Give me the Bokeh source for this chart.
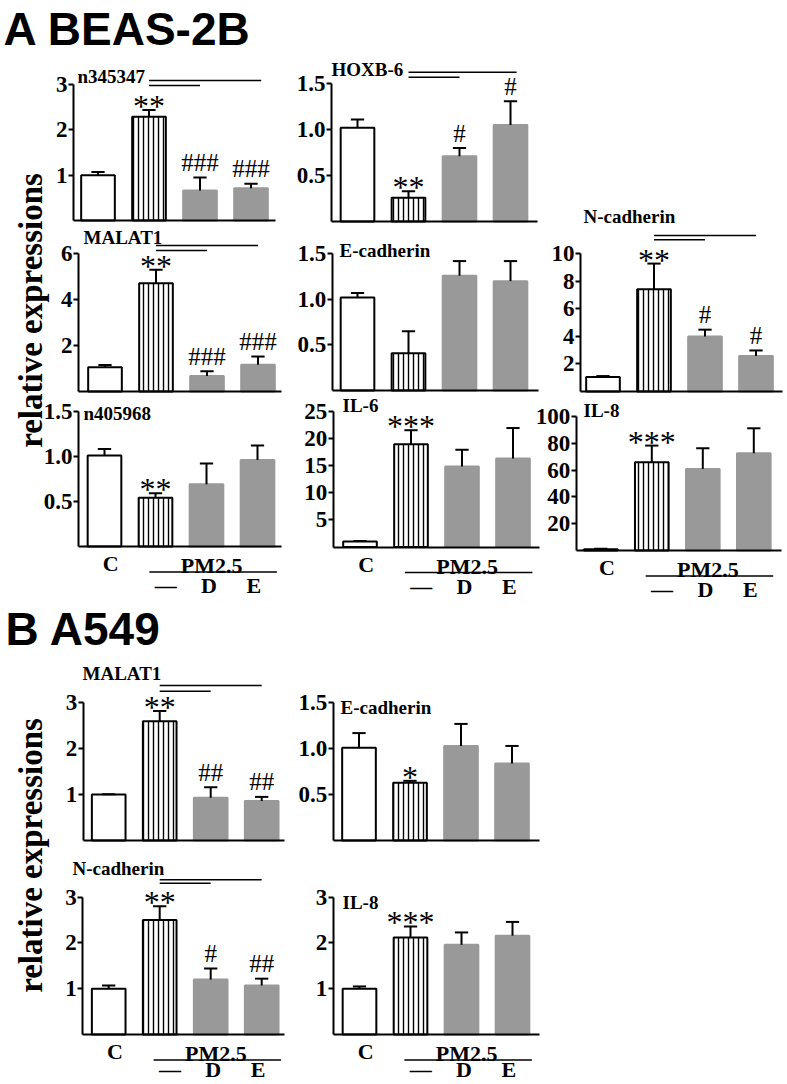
import math
from bokeh.plotting import figure
from bokeh.models import Range1d, LinearAxis, FixedTicker, ColumnDataSource
from bokeh.core.properties import value
from bokeh.embed import file_html
from bokeh.resources import INLINE

# ---------------- data ----------------
groups = ["C", "PM2.5", "PM2.5+D", "PM2.5+E"]
x_pos = [1, 2, 3, 4]
ctrl_label = "C"
pm_label = "PM2.5"
sub_labels = ["\u2014", "D", "E"]
ylabel = "relative expressions"
title_a = "A BEAS-2B"
title_b = "B A549"

# A: BEAS-2B
n345347_mean = [1.00, 2.29, 0.66, 0.71]
n345347_sem = [0.07, 0.15, 0.29, 0.10]
n345347_sig = ["", "**", "###", "###"]

hoxb6_mean = [1.02, 0.26, 0.71, 1.05]
hoxb6_sem = [0.09, 0.07, 0.09, 0.26]
hoxb6_sig = ["", "**", "#", "#"]

malat1_a_mean = [1.05, 4.71, 0.67, 1.16]
malat1_a_sem = [0.10, 0.58, 0.21, 0.36]
malat1_a_sig = ["", "**", "###", "###"]

ecad_a_mean = [1.02, 0.41, 1.26, 1.20]
ecad_a_sem = [0.05, 0.24, 0.16, 0.22]
ecad_a_sig = ["", "", "", ""]

ncad_a_mean = [1.05, 7.42, 4.00, 2.57]
ncad_a_sem = [0.07, 1.87, 0.49, 0.41]
ncad_a_sig = ["", "**", "#", "#"]

n405968_mean = [1.01, 0.54, 0.69, 0.96]
n405968_sem = [0.07, 0.05, 0.23, 0.16]
n405968_sig = ["", "**", "", ""]

il6_a_mean = [1.00, 18.9, 14.8, 16.3]
il6_a_sem = [0.10, 2.6, 3.1, 5.6]
il6_a_sig = ["", "***", "", ""]

il8_a_mean = [1.0, 65.8, 60.9, 72.6]
il8_a_sem = [0.3, 12.5, 15.4, 18.6]
il8_a_sig = ["", "***", "", ""]

# B: A549
malat1_b_mean = [1.00, 2.60, 0.93, 0.86]
malat1_b_sem = [0.01, 0.22, 0.23, 0.09]
malat1_b_sig = ["", "**", "##", "##"]

ecad_b_mean = [1.01, 0.63, 1.03, 0.84]
ecad_b_sem = [0.16, 0.02, 0.24, 0.19]
ecad_b_sig = ["", "*", "", ""]

ncad_b_mean = [1.00, 2.50, 1.20, 1.07]
ncad_b_sem = [0.07, 0.30, 0.24, 0.15]
ncad_b_sig = ["", "**", "#", "##"]

il8_b_mean = [1.00, 2.12, 1.96, 2.16]
il8_b_sem = [0.05, 0.24, 0.27, 0.30]
il8_b_sig = ["", "***", "", ""]

ticks_3 = [1, 2, 3]
ticks_3_labels = ["1", "2", "3"]
ticks_15 = [0.5, 1.0, 1.5]
ticks_15_labels = ["0.5", "1.0", "1.5"]
ticks_6 = [2, 4, 6]
ticks_6_labels = ["2", "4", "6"]
ticks_10 = [2, 4, 6, 8, 10]
ticks_10_labels = ["2", "4", "6", "8", "10"]
ticks_25 = [5, 10, 15, 20, 25]
ticks_25_labels = ["5", "10", "15", "20", "25"]
ticks_100 = [20, 40, 60, 80, 100]
ticks_100_labels = ["20", "40", "60", "80", "100"]

comparisons = [(2, 4), (2, 3)]  # PM2.5 vs PM2.5+E, PM2.5 vs PM2.5+D

panels = [
    ("A1", "n345347", n345347_mean, n345347_sem, n345347_sig, ticks_3, ticks_3_labels),
    ("A2", "HOXB-6", hoxb6_mean, hoxb6_sem, hoxb6_sig, ticks_15, ticks_15_labels),
    ("A3", "MALAT1", malat1_a_mean, malat1_a_sem, malat1_a_sig, ticks_6, ticks_6_labels),
    ("A4", "E-cadherin", ecad_a_mean, ecad_a_sem, ecad_a_sig, ticks_15, ticks_15_labels),
    ("A5", "N-cadherin", ncad_a_mean, ncad_a_sem, ncad_a_sig, ticks_10, ticks_10_labels),
    ("A6", "n405968", n405968_mean, n405968_sem, n405968_sig, ticks_15, ticks_15_labels),
    ("A7", "IL-6", il6_a_mean, il6_a_sem, il6_a_sig, ticks_25, ticks_25_labels),
    ("A8", "IL-8", il8_a_mean, il8_a_sem, il8_a_sig, ticks_100, ticks_100_labels),
    ("B1", "MALAT1", malat1_b_mean, malat1_b_sem, malat1_b_sig, ticks_3, ticks_3_labels),
    ("B2", "E-cadherin", ecad_b_mean, ecad_b_sem, ecad_b_sig, ticks_15, ticks_15_labels),
    ("B3", "N-cadherin", ncad_b_mean, ncad_b_sem, ncad_b_sig, ticks_3, ticks_3_labels),
    ("B4", "IL-8", il8_b_mean, il8_b_sem, il8_b_sig, ticks_3, ticks_3_labels),
]

# ---------------- layout (window pixel coordinates) ----------------
W, H = 787, 1084
UNIT = 51.0      # px between bars
BAR_W = 0.66
CAP = 0.13
FONT = "Liberation Serif"
GRAY = "#999999"

layout = {
    "A1": dict(ax=73, cx1=97.5, y0=220, ytop=84, top=3, xend=275, title=(77, 76), lines=(4, -1), ext=0.2),
    "A2": dict(ax=331, cx1=357, y0=221, ytop=83.3, top=1.5, xend=537, title=(331, 69), lines=(11.6, 6.6), ext=0.12),
    "A3": dict(ax=78, cx1=104.5, y0=391, ytop=253, top=6, xend=281, title=(83, 237), lines=(8, 3), ext=0.0),
    "A4": dict(ax=331.7, cx1=357, y0=390, ytop=253.3, top=1.5, xend=538, title=(339, 250)),
    "A5": dict(ax=580, cx1=602.5, y0=391, ytop=253.3, top=10, xend=782, title=(583, 216), lines=(18.3, 14), ext=0.0),
    "A6": dict(ax=78, cx1=104, y0=546, ytop=410.7, top=1.5, xend=281, title=(83, 413), xlabels=39),
    "A7": dict(ax=332.7, cx1=359.5, y0=546.5, ytop=410.7, top=25, xend=539, title=(342, 405), xlabels=39),
    "A8": dict(ax=575.7, cx1=600.3, y0=550, ytop=416, top=100, xend=781, title=(583, 410), xlabels=39),
    "B1": dict(ax=82.7, cx1=108.2, y0=840, ytop=702.3, top=3, xend=284, title=(82, 673), lines=(17.3, 11.6), ext=0.0),
    "B2": dict(ax=332.7, cx1=358.5, y0=840, ytop=702.3, top=1.5, xend=539, title=(340, 706.7)),
    "B3": dict(ax=82.3, cx1=108.2, y0=1034, ytop=896.7, top=3, xend=284, title=(72, 868), lines=(17.4, 14), ext=0.0, xlabels=35),
    "B4": dict(ax=332.7, cx1=359, y0=1034, ytop=896.7, top=3, xend=539, title=(342, 902), xlabels=35),
}

p = figure(width=W, height=H, output_backend="svg", toolbar_location=None,
           x_range=Range1d(0, W), y_range=Range1d(H, 0),
           x_axis_location=None, y_axis_location=None, min_border=0)
p.min_border_left = p.min_border_right = p.min_border_top = p.min_border_bottom = 0
p.outline_line_color = None
p.background_fill_color = "white"
p.border_fill_color = "white"
p.grid.visible = False

extra_x = {}
extra_y = {}
for key, *_ in panels:
    L = layout[key]
    k = (L["y0"] - L["ytop"]) / L["top"]
    L["k"] = k
    xs = 1 - L["cx1"] / UNIT
    extra_x["x" + key] = Range1d(xs, xs + W / UNIT)
    extra_y["y" + key] = Range1d((L["y0"] - H) / k, L["y0"] / k)
p.extra_x_ranges = extra_x
p.extra_y_ranges = extra_y

bar_fill = ["white", "white", GRAY, GRAY]
bar_line = ["black", "black", GRAY, GRAY]
bar_hatch = [" ", "|", " ", " "]


def txt(**kw):
    base = dict(text_font=value(FONT), text_color="black")
    base.update(kw)
    return base


for key, title, mean, sem, sig, ticks, tick_labels in panels:
    L = layout[key]
    k = L["k"]
    xn, yn = "x" + key, "y" + key
    rn = dict(x_range_name=xn, y_range_name=yn)
    ax_val = 1 + (L["ax"] - L["cx1"]) / UNIT
    xend_val = 1 + (L["xend"] - L["cx1"]) / UNIT

    src = ColumnDataSource(dict(x=x_pos, top=mean, fill=bar_fill, line=bar_line, hatch=bar_hatch))
    p.vbar(x="x", top="top", bottom=0, width=BAR_W, fill_color="fill", line_color="line",
           line_width=2, hatch_pattern="hatch", hatch_color="black", hatch_scale=5,
           hatch_weight=1.4, source=src, **rn)

    err_top = [m + s for m, s in zip(mean, sem)]
    p.segment(x0=x_pos, y0=mean, x1=x_pos, y1=err_top, line_color="black", line_width=2, **rn)
    p.segment(x0=[x - CAP for x in x_pos], y0=err_top, x1=[x + CAP for x in x_pos], y1=err_top,
              line_color="black", line_width=2, **rn)

    # significance marks
    st_x = [x for x, s in zip(x_pos, sig) if s.startswith("*")]
    st_y = [e for e, s in zip(err_top, sig) if s.startswith("*")]
    st_t = [s for s in sig if s.startswith("*")]
    if st_t:
        p.text(x=st_x, y=st_y, text=st_t, y_offset=-4, **txt(text_font_size="32px", text_align="center",
               text_baseline="middle"), **rn)
    hs_x = [x for x, s in zip(x_pos, sig) if s.startswith("#")]
    hs_y = [e for e, s in zip(err_top, sig) if s.startswith("#")]
    hs_t = [s for s in sig if s.startswith("#")]
    if hs_t:
        p.text(x=hs_x, y=hs_y, text=hs_t, y_offset=-15, **txt(text_font_size="25px", text_align="center",
               text_baseline="middle"), **rn)

    # comparison lines
    if "lines" in L:
        dl, ds = L["lines"]
        ys = [L["top"] + dl / k, L["top"] + ds / k]
        x0s = [c[0] for c in comparisons]
        x1s = [comparisons[0][1] + L["ext"], comparisons[1][1]]
        p.segment(x0=x0s, y0=ys, x1=x1s, y1=ys, line_color="black", line_width=1.5, **rn)

    # axes
    yax = LinearAxis(x_range_name=xn, y_range_name=yn, fixed_location=ax_val, bounds=(0, L["top"]),
                     ticker=FixedTicker(ticks=ticks),
                     major_label_overrides={t: l for t, l in zip(ticks, tick_labels)},
                     axis_line_width=2, axis_line_color="black",
                     major_tick_line_width=2, major_tick_out=5, major_tick_in=0,
                     minor_tick_line_color=None, major_label_standoff=1,
                     major_label_text_font=FONT, major_label_text_font_style="bold",
                     major_label_text_font_size="23px", major_label_text_color="black")
    p.add_layout(yax, "left")
    xax = LinearAxis(x_range_name=xn, y_range_name=yn, fixed_location=0, bounds=(ax_val, xend_val),
                     ticker=FixedTicker(ticks=[]), axis_line_width=2, axis_line_color="black",
                     major_tick_line_color=None, minor_tick_line_color=None,
                     major_label_text_font_size="0px")
    p.add_layout(xax, "below")

    # panel title
    tx, ty = L["title"]
    p.text(x=[tx], y=[ty], text=[title], **txt(text_font_size="19px", text_font_style="bold",
           text_align="left", text_baseline="middle"))

    # group labels under the axis
    if L.get("xlabels"):
        yC = -17 / k
        yPM = -19 / k
        yline = -25.5 / k
        ysub = -L["xlabels"] / k
        p.text(x=[x_pos[0] + 0.12], y=[yC], text=[ctrl_label], **txt(text_font_size="22px", text_font_style="bold",
               text_align="center", text_baseline="middle"), **rn)
        p.text(x=[x_pos[2] + 0.1], y=[yPM], text=[pm_label], **txt(text_font_size="22px", text_font_style="bold",
               text_align="center", text_baseline="middle"), **rn)
        p.segment(x0=[x_pos[1] - 0.12], y0=[yline], x1=[x_pos[3] + 0.38], y1=[yline],
                  line_color="black", line_width=1.5, **rn)
        p.text(x=[x_pos[1] + 0.2, x_pos[2] + 0.05, x_pos[3] - 0.07], y=[ysub] * 3, text=sub_labels,
               **txt(text_font_size="22px", text_font_style="bold", text_align="center",
                     text_baseline="middle"), **rn)

# section titles and y labels
p.text(x=[3], y=[28], text=[title_a], text_font=value("Liberation Sans"), text_font_style="bold",
       text_font_size="46px", text_align="left", text_baseline="middle", text_color="black")
p.text(x=[5], y=[628], text=[title_b], text_font=value("Liberation Sans"), text_font_style="bold",
       text_font_size="46px", text_align="left", text_baseline="middle", text_color="black")
p.text(x=[30, 30], y=[310, 855], text=[ylabel, ylabel], angle=math.pi / 2,
       **txt(text_font_size="33px", text_font_style="bold", text_align="center", text_baseline="middle"))

open("out.html", "w").write(file_html(p, INLINE))
